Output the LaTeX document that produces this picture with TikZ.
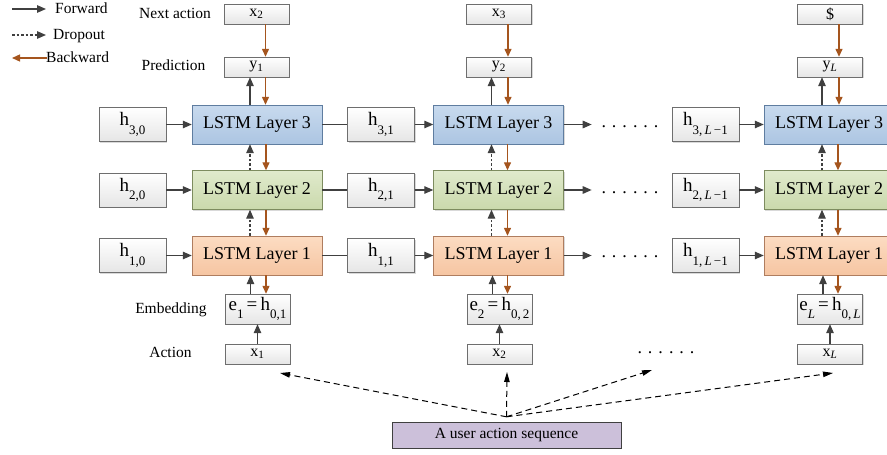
\documentclass[tikz,border=0pt]{standalone}
\usepackage{fontspec}
\setmainfont{Liberation Serif}
\usetikzlibrary{arrows.meta,shadows}

\definecolor{darkline}{RGB}{64,64,64}
\definecolor{backbrown}{RGB}{165,85,30}
\definecolor{boxborder}{RGB}{110,110,110}
\definecolor{blueborder}{RGB}{95,125,160}
\definecolor{greenborder}{RGB}{125,140,95}
\definecolor{orangeborder}{RGB}{175,125,95}
\definecolor{seqfill}{RGB}{204,192,218}

% lowered subscript for the larger box texts
\newcommand{\lowsub}[1]{\raisebox{-0.45em}{\fontsize{13}{13}\selectfont #1}}

\begin{document}
\begin{tikzpicture}[x=1pt,y=-1pt]
		\tikzstyle{box}=[draw=boxborder,top color=white,bottom color=black!10,minimum width=65pt,minimum height=20pt,inner sep=0pt,font=\fontsize{16}{16}\selectfont,drop shadow={shadow xshift=1.2pt,shadow yshift=-1.2pt,opacity=0.3}]
		\tikzstyle{hbox}=[box,minimum width=67pt,minimum height=34pt,font=\fontsize{19}{19}\selectfont]
		\tikzstyle{ebox}=[box,minimum height=30pt,font=\fontsize{19}{19}\selectfont]
		\tikzstyle{lstm}=[minimum width=130pt,minimum height=39pt,font=\fontsize{18}{18}\selectfont,drop shadow={shadow xshift=1.2pt,shadow yshift=-1.2pt,opacity=0.3}]
		\tikzstyle{layerthree}=[lstm,draw=blueborder,top color={rgb,255:red,200;green,218;blue,238},bottom color={rgb,255:red,172;green,197;blue,226}]
		\tikzstyle{layertwo}=[lstm,draw=greenborder,top color={rgb,255:red,224;green,234;blue,204},bottom color={rgb,255:red,202;green,217;blue,172}]
		\tikzstyle{layerone}=[lstm,draw=orangeborder,top color={rgb,255:red,252;green,220;blue,194},bottom color={rgb,255:red,246;green,197;blue,162}]
		\tikzstyle{seqbox}=[draw=darkline,fill=seqfill,minimum width=229pt,minimum height=26pt,inner sep=0pt,font=\fontsize{15.5}{16}\selectfont]
		\tikzstyle{rowlabel}=[font=\fontsize{15.5}{16}\selectfont,text height=11pt,text depth=3pt,inner sep=0pt]
		\tikzstyle{dots}=[font=\fontsize{18}{18}\selectfont,inner sep=0pt,anchor=base]
		\tikzstyle{fwd}=[darkline,line width=1.3pt,-{Triangle[length=9pt,width=7.5pt]}]
		\tikzstyle{drop}=[fwd,dash pattern=on 2.5pt off 2pt]
		\tikzstyle{back}=[backbrown,line width=1.3pt,-{Triangle[length=8pt,width=7pt]}]
		\tikzstyle{link}=[darkline,line width=1.3pt]
		\tikzstyle{seqarrow}=[black,line width=1pt,dash pattern=on 6pt off 4pt,-{Triangle[length=10pt,width=5.5pt]}]

		\useasboundingbox (0,0) rectangle (887,455);

		% legend
		\coordinate (fw0) at (12,9);
		\coordinate (fw1) at (46,9);
		\coordinate (dr0) at (12,35);
		\coordinate (dr1) at (46,35);
		\coordinate (bw0) at (12,58);
		\coordinate (bw1) at (47,58);
		\node[rowlabel,anchor=west] (fwtext) at (55,9) {Forward};
		\node[rowlabel,anchor=west] (drtext) at (53,35) {Dropout};
		\node[rowlabel,anchor=west] (bwtext) at (46,58) {Backward};
		\draw [fwd] (fw0) -- (fw1);
		\draw [drop] (dr0) -- (dr1);
		\draw [back] (bw1) -- (bw0);

		% row labels
		\node[rowlabel] (lnext) at (175,15) {Next action};
		\node[rowlabel] (lpred) at (173.5,66) {Prediction};
		\node[rowlabel] (lemb) at (171,309) {Embedding};
		\node[rowlabel] (lact) at (170.5,353) {Action};

		% next actions and predictions
		\node[box] (next1) at (256.5,14) {x\textsubscript{2}};
		\node[box] (next2) at (499,14) {x\textsubscript{3}};
		\node[box] (next3) at (830,14) {\$};
		\node[box] (pred1) at (256.5,67) {y\textsubscript{1}};
		\node[box] (pred2) at (499,67) {y\textsubscript{2}};
		\node[box] (pred3) at (830,67) {y\textsubscript{\textit{L}}};

		% LSTM layers
		\node[layerthree] (L31) at (257,124.5) {LSTM Layer 3};
		\node[layerthree] (L32) at (498.5,124.5) {LSTM Layer 3};
		\node[layerthree] (L33) at (829,124.5) {LSTM Layer 3};
		\node[layertwo] (L21) at (257,190) {LSTM Layer 2};
		\node[layertwo] (L22) at (498.5,190) {LSTM Layer 2};
		\node[layertwo] (L23) at (829,190) {LSTM Layer 2};
		\node[layerone] (L11) at (257,255.5) {LSTM Layer 1};
		\node[layerone] (L12) at (498.5,255.5) {LSTM Layer 1};
		\node[layerone] (L13) at (829,255.5) {LSTM Layer 1};

		% hidden states
		\node[hbox] (h30) at (132.5,124.5) {h\lowsub{3,0}};
		\node[hbox] (h20) at (132.5,190) {h\lowsub{2,0}};
		\node[hbox] (h10) at (132.5,255.5) {h\lowsub{1,0}};
		\node[hbox] (h31) at (381,124.5) {h\lowsub{3,1}};
		\node[hbox] (h21) at (381,190) {h\lowsub{2,1}};
		\node[hbox] (h11) at (381,255.5) {h\lowsub{1,1}};
		\node[hbox] (h3L) at (705.5,124.5) {h\lowsub{3,\,\textit{L}\,−1}};
		\node[hbox] (h2L) at (705.5,190) {h\lowsub{2,\,\textit{L}\,−1}};
		\node[hbox] (h1L) at (705.5,255.5) {h\lowsub{1,\,\textit{L}\,−1}};

		\node[dots] (dot3) at (630,127.5) {. . . . . .};
		\node[dots] (dot2) at (630,193.5) {. . . . . .};
		\node[dots] (dot1) at (630,257) {. . . . . .};

		% embeddings and actions
		\node[ebox] (emb1) at (257.5,309) {e\lowsub{1}\,=\,h\lowsub{0,1}};
		\node[ebox] (emb2) at (499.5,309) {e\lowsub{2}\,=\,h\lowsub{0,\,2}};
		\node[ebox] (emb3) at (830,309) {e\lowsub{\textit{L}}\,=\,h\lowsub{0,\,\textit{L}}};
		\node[box] (act1) at (257.5,354) {x\textsubscript{1}};
		\node[box] (act2) at (499.5,354) {x\textsubscript{2}};
		\node[box] (act3) at (830,354) {x\textsubscript{\textit{L}}};
		\node[dots] (dota) at (666,353) {. . . . . .};

		\node[seqbox] (seq) at (506.5,435) {A user action sequence};

		% horizontal connections
		\draw [fwd] (h30) -- (L31);
		\draw [fwd] (h20) -- (L21);
		\draw [fwd] (h10) -- (L11);
		\draw [link] (L31) -- (h31);
		\draw [link] (L21) -- (h21);
		\draw [link] (L11) -- (h11);
		\draw [fwd] (h31) -- (L32);
		\draw [fwd] (h21) -- (L22);
		\draw [fwd] (h11) -- (L12);
		\coordinate (out3) at ([xshift=28pt]L32.east);
		\coordinate (out2) at ([xshift=28pt]L22.east);
		\coordinate (out1) at ([xshift=28pt]L12.east);
		\draw [fwd] (L32.east) -- (out3);
		\draw [fwd] (L22.east) -- (out2);
		\draw [fwd] (L12.east) -- (out1);
		\draw [fwd] (h3L) -- (L33);
		\draw [fwd] (h2L) -- (L23);
		\draw [fwd] (h1L) -- (L13);

		% column 1
		\draw [back] ([xshift=9pt]next1.south) -- ([xshift=9pt]pred1.north);
		\draw [fwd] ([xshift=-7pt]L31.north) -- ([xshift=-7pt]L31.north |- pred1.south);
		\draw [back] ([xshift=9pt]pred1.south) -- ([xshift=9pt]pred1.south |- L31.north);
		\draw [drop] ([xshift=-7pt]L21.north) -- ([xshift=-7pt]L31.south);
		\draw [back] ([xshift=9pt]L31.south) -- ([xshift=9pt]L21.north);
		\draw [drop] ([xshift=-7pt]L11.north) -- ([xshift=-7pt]L21.south);
		\draw [back] ([xshift=9pt]L21.south) -- ([xshift=9pt]L11.north);
		\draw [fwd] ([xshift=-7pt]emb1.north) -- ([xshift=-7pt]emb1.north |- L11.south);
		\draw [back] ([xshift=9pt]L11.south) -- ([xshift=9pt]L11.south |- emb1.north);
		\draw [fwd] (act1.north) -- (emb1.south);

		% column 2
		\draw [back] ([xshift=9pt]next2.south) -- ([xshift=9pt]pred2.north);
		\draw [fwd] ([xshift=-7pt]L32.north) -- ([xshift=-7pt]L32.north |- pred2.south);
		\draw [back] ([xshift=9pt]pred2.south) -- ([xshift=9pt]pred2.south |- L32.north);
		\draw [drop] ([xshift=-7pt]L22.north) -- ([xshift=-7pt]L32.south);
		\draw [back] ([xshift=9pt]L32.south) -- ([xshift=9pt]L22.north);
		\draw [drop] ([xshift=-7pt]L12.north) -- ([xshift=-7pt]L22.south);
		\draw [back] ([xshift=9pt]L22.south) -- ([xshift=9pt]L12.north);
		\draw [fwd] ([xshift=-7pt]emb2.north) -- ([xshift=-7pt]emb2.north |- L12.south);
		\draw [back] ([xshift=9pt]L12.south) -- ([xshift=9pt]L12.south |- emb2.north);
		\draw [fwd] (act2.north) -- (emb2.south);

		% column L
		\draw [back] ([xshift=9pt]next3.south) -- ([xshift=9pt]pred3.north);
		\draw [fwd] ([xshift=-7pt]L33.north) -- ([xshift=-7pt]L33.north |- pred3.south);
		\draw [back] ([xshift=9pt]pred3.south) -- ([xshift=9pt]pred3.south |- L33.north);
		\draw [drop] ([xshift=-7pt]L23.north) -- ([xshift=-7pt]L33.south);
		\draw [back] ([xshift=9pt]L33.south) -- ([xshift=9pt]L23.north);
		\draw [drop] ([xshift=-7pt]L13.north) -- ([xshift=-7pt]L23.south);
		\draw [back] ([xshift=9pt]L23.south) -- ([xshift=9pt]L13.north);
		\draw [fwd] ([xshift=-7pt]emb3.north) -- ([xshift=-7pt]emb3.north |- L13.south);
		\draw [back] ([xshift=9pt]L13.south) -- ([xshift=9pt]L13.south |- emb3.north);
		\draw [fwd] (act3.north) -- (emb3.south);

		% the sequence feeds every action
		\coordinate (src) at ([yshift=5pt]seq.north);
		\coordinate (ta1) at (280,373);
		\coordinate (ta2) at (507,372);
		\coordinate (tad) at (652,370);
		\coordinate (ta3) at (833,373);
		\draw [seqarrow] (src) -- (ta1);
		\draw [seqarrow] (src) -- (ta2);
		\draw [seqarrow] (src) -- (tad);
		\draw [seqarrow] (src) -- (ta3);
\end{tikzpicture}
\end{document}
